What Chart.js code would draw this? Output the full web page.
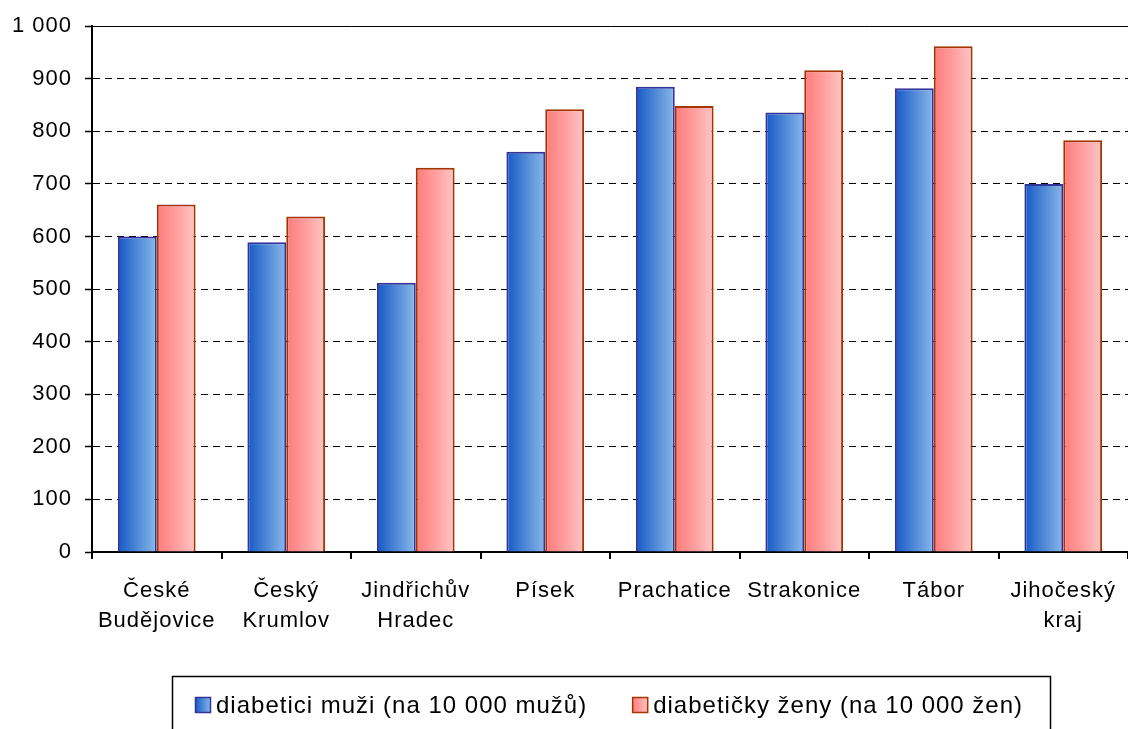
<!DOCTYPE html>
<html>
<head>
<meta charset="utf-8">
<script src="https://cdn.jsdelivr.net/npm/chart.js@4.4.1/dist/chart.umd.min.js"></script>
<style>
  html, body { margin: 0; padding: 0; background: #fff; }
  #wrap { width: 1128px; height: 729px; position: relative; }
</style>
</head>
<body>
<div id="wrap"><canvas id="chart"></canvas></div>
<script>
// data
const districts = [
    ['České', 'Budějovice'],
    ['Český', 'Krumlov'],
    ['Jindřichův', 'Hradec'],
    ['Písek'],
    ['Prachatice'],
    ['Strakonice'],
    ['Tábor'],
    ['Jihočeský', 'kraj']
];
const menValues = [600, 589, 512, 761, 885, 836, 882, 700];
const womenValues = [661, 638, 731, 842, 848, 916, 962, 783];
const seriesNames = ['diabetici muži (na 10 000 mužů)', 'diabetičky ženy (na 10 000 žen)'];
const yTicks = [0, 100, 200, 300, 400, 500, 600, 700, 800, 900, 1000];

const FONT = "'Liberation Sans', Arial, sans-serif";
const CAT_PCT = 0.6;

const palette = [
    { from: '#1558c8', mid: '#4a84d4', to: '#88b8ea', border: '#33339a' },
    { from: '#ff7b7b', mid: '#ff9a9a', to: '#ffc6c6', border: '#a33600' }
];

function makeGradient(ctx, x0, x1, p) {
    const g = ctx.createLinearGradient(x0, 0, x1, 0);
    g.addColorStop(0, p.from);
    g.addColorStop(0.45, p.mid);
    g.addColorStop(1, p.to);
    return g;
}

// horizontal gradient per bar, position taken from the x scale
function barFill(context) {
    const chart = context.chart;
    const p = palette[context.datasetIndex];
    const xs = chart.scales.x;
    if (!chart.chartArea || !xs) return p.mid;
    const center = xs.getPixelForValue(context.dataIndex);
    const half = (xs.width / districts.length) * CAT_PCT / 2;
    const x0 = context.datasetIndex === 0 ? center - half : center;
    return makeGradient(chart.ctx, x0, x0 + half, p);
}

function spacing(chart) {
    chart.ctx.letterSpacing = '1px';
}

const spacingPlugin = {
    id: 'spacing',
    beforeUpdate: spacing,
    beforeDraw: spacing
};

// framed legend like the original
const boxLegend = {
    id: 'boxLegend',
    afterDraw(chart) {
        const ctx = chart.ctx;
        ctx.save();
        ctx.letterSpacing = '1px';
        ctx.strokeStyle = '#000';
        ctx.lineWidth = 1.5;
        ctx.strokeRect(172.5, 676.5, 878, 70);

        ctx.font = '24px ' + FONT;
        ctx.textBaseline = 'middle';
        ctx.fillStyle = '#000';
        let x = 195;
        const cy = 705;
        seriesNames.forEach((name, i) => {
            const p = palette[i];
            ctx.fillStyle = makeGradient(ctx, x, x + 16, p);
            ctx.fillRect(x, cy - 8, 16, 16);
            ctx.strokeStyle = p.border;
            ctx.lineWidth = 1.5;
            ctx.strokeRect(x + 0.5, cy - 7.5, 15, 15);
            ctx.fillStyle = '#000';
            ctx.fillText(name, x + 21, cy + 1);
            x += 21 + ctx.measureText(name).width + 45;
        });
        ctx.restore();
    }
};

const ctx = document.getElementById('chart').getContext('2d');
window.diabetesChart = new Chart(ctx, {
    type: 'bar',
    data: {
        labels: districts,
        datasets: seriesNames.map((name, i) => ({
            label: name,
            data: i === 0 ? menValues : womenValues,
            backgroundColor: barFill,
            borderColor: palette[i].border,
            borderWidth: 2,
            borderSkipped: 'bottom',
            barPercentage: 1,
            categoryPercentage: CAT_PCT
        }))
    },
    options: {
        responsive: true,
        maintainAspectRatio: false,
        animation: false,
        layout: { padding: { top: 24, right: 0, left: 0, bottom: 0 } },
        plugins: {
            legend: { display: false },
            tooltip: { enabled: false }
        },
        scales: {
            x: {
                offset: true,
                grid: {
                    offset: true,
                    drawOnChartArea: false,
                    color: '#000',
                    lineWidth: 2,
                    tickLength: 7
                },
                border: { color: '#000', width: 2 },
                ticks: {
                    color: '#000',
                    font: { family: FONT, size: 22, lineHeight: 1.36 },
                    padding: 17,
                    maxRotation: 0,
                    autoSkip: false
                },
                afterFit: scale => {
                    scale.height = 729 - 552;
                    scale.paddingLeft = 0;
                    scale.paddingRight = 0;
                }
            },
            y: {
                min: 0,
                max: 1000,
                afterBuildTicks: scale => { scale.ticks = yTicks.map(v => ({ value: v })); },
                grid: {
                    color: '#000',
                    lineWidth: 1,
                    tickLength: 7,
                    tickColor: '#000',
                    tickWidth: 1.5,
                    tickBorderDash: []
                },
                border: {
                    color: '#000',
                    width: 2,
                    dash: c => (c.tick && c.tick.value === 1000) ? [] : [7, 5]
                },
                ticks: {
                    color: '#000',
                    font: { family: FONT, size: 22 },
                    padding: 13,
                    callback: v => String(v).replace(/\B(?=(\d{3})+(?!\d))/g, ' ')
                },
                afterFit: scale => { scale.width = 92; }
            }
        }
    },
    plugins: [spacingPlugin, boxLegend]
});
</script>
</body>
</html>
